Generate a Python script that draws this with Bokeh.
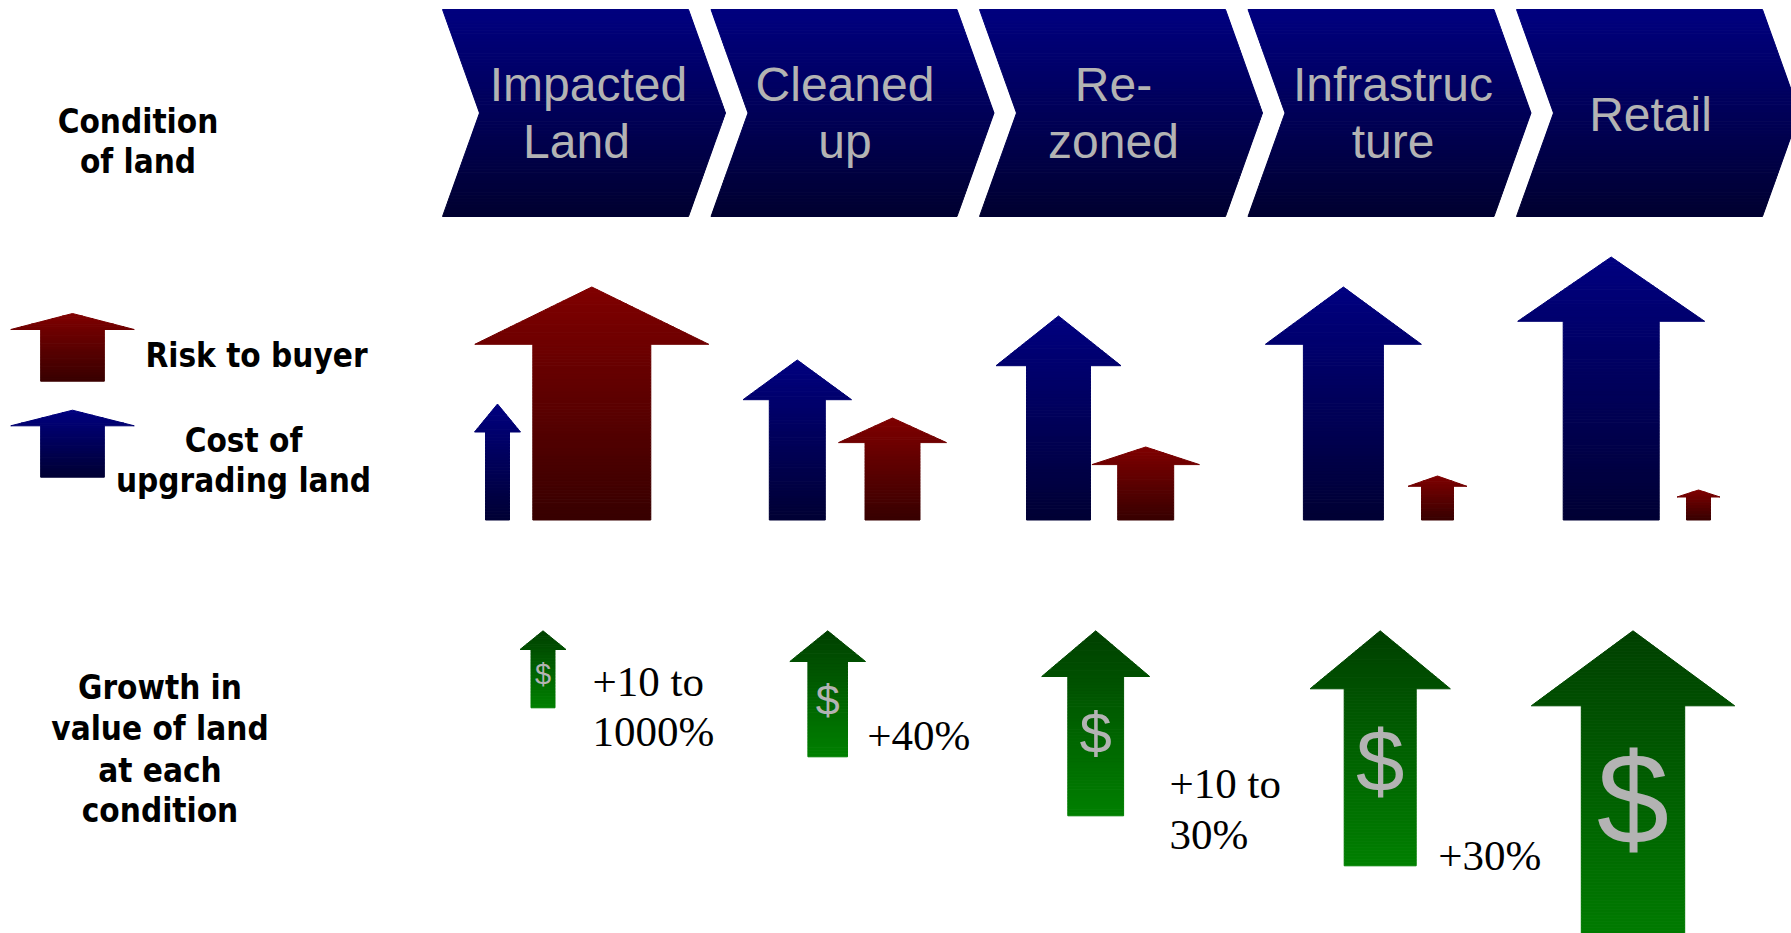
import math
from bokeh.plotting import figure
from bokeh.models import Range1d
from bokeh.core.properties import value
from bokeh.embed import file_html
from bokeh.resources import INLINE

# ---------------- data ----------------
stage_lines = [["Impacted", "Land"], ["Cleaned", "up"], ["Re-", "zoned"],
               ["Infrastruc", "ture"], ["Retail"]]
cost_of_upgrading = [116, 160, 204, 233, 263]     # blue arrows (relative height)
risk_to_buyer = [233, 102, 73, 44, 30]            # red arrows (relative height)
value_growth = [77, 126, 185, 235, 330]           # green arrows (relative length)
growth_labels = [["+10 to", "1000%"], ["+40%"], ["+10 to", "30%"], ["+30%"], []]
condition_title = ["Condition", "of land"]
risk_legend = ["Risk to buyer"]
cost_legend = ["Cost of", "upgrading land"]
growth_title = ["Growth in", "value of land", "at each", "condition"]

# ---------------- layout / style ----------------
W, H = 1791, 933
CHEV_X0, CHEV_PITCH, CHEV_W, CHEV_DEPTH = 442, 268.5, 246, 37
CHEV_TOP, CHEV_BOT = 9, 216
STAGE_DX = 134
label_dx = [[146, 134], [134, 134], [134, 134], [145, 145], [134]]
BASE_Y = 519.5
GREEN_TIP = 630.3
BASE_SHIFT = 0.36   # baseline correction (fraction of font size)

blue_dx = [-79, -47.7, -55, -38.6, -39.3]
blue_shaft = [24, 56, 64, 80, 96]
blue_head_w = [46, 108.5, 125, 156, 187]
blue_head_h = [28, 39.7, 49.7, 57.3, 64.3]

red_dx = [15.3, 47.5, 32.2, 55.5, 48]
red_shaft = [118, 55, 56, 32, 24]
red_head_w = [234, 108, 107.5, 59, 43]
red_head_h = [57.3, 24.6, 17.6, 10.3, 7]

green_dx = [-33.5, -17.3, -17.8, -1.8, -17.5]
green_shaft = [24, 39.6, 55.8, 72, 103.4]
green_head_w = [46, 75.7, 108, 140.3, 203.4]
green_head_h = [18.7, 30.7, 45.7, 58, 75]
dollar_size = [29, 43, 58, 87, 130]
dollar_cy = [672, 697.5, 730, 757, 793]
glabel_dx = [49.5, 39.6, 73.8, 58, 0]
glabel_base = [[696.7, 746.7], [750], [798, 849], [870], []]

BLUE = ((0, 0, 128), (0, 0, 52))
RED = ((128, 0, 0), (56, 0, 0))
GREEN = ((0, 64, 0), (0, 128, 0))
CHEV = ((0, 0, 128), (0, 0, 48))
SILVER = "#b3b3b3"

p = figure(width=W, height=H, x_range=Range1d(0, W), y_range=Range1d(H, 0),
           output_backend="svg", toolbar_location=None,
           x_axis_type=None, y_axis_type=None, min_border=0,
           outline_line_color=None, background_fill_color="white",
           border_fill_color="white")
p.grid.visible = False

def col(c, t):
    t = max(0.0, min(1.0, t))
    return "#%02x%02x%02x" % tuple(int(round(a + (b - a) * t)) for a, b in zip(*c))

def slices(a, b, step=3.0):
    n = max(1, int(math.ceil((b - a) / step)))
    return [(a + (b - a) * k / n, a + (b - a) * (k + 1) / n) for k in range(n)]

XS, YS, CS = [], [], []

def arrow(cx, y_tip, y_bot, head_h, head_w, shaft_w, colors):
    L = y_bot - y_tip
    y_hb = y_tip + head_h
    for ya, yb in slices(y_tip, y_hb):
        ha = head_w / 2 * (ya - y_tip) / head_h
        hb = head_w / 2 * (yb - y_tip) / head_h
        XS.append([cx - ha, cx + ha, cx + hb, cx - hb]); YS.append([ya, ya, yb, yb])
        CS.append(col(colors, ((ya + yb) / 2 - y_tip) / L))
    s = shaft_w / 2
    for ya, yb in slices(y_hb, y_bot):
        XS.append([cx - s, cx + s, cx + s, cx - s]); YS.append([ya, ya, yb, yb])
        CS.append(col(colors, ((ya + yb) / 2 - y_tip) / L))

def chevron(x0):
    mid = (CHEV_TOP + CHEV_BOT) / 2
    hh = mid - CHEV_TOP
    def off(y):
        return CHEV_DEPTH * (1 - abs(y - mid) / hh)
    for ya, yb in slices(CHEV_TOP, mid) + slices(mid, CHEV_BOT):
        xa, xb = x0 + off(ya), x0 + off(yb)
        XS.append([xa, xa + CHEV_W, xb + CHEV_W, xb])
        YS.append([ya, ya, yb, yb])
        CS.append(col(CHEV, ((ya + yb) / 2 - CHEV_TOP) / (CHEV_BOT - CHEV_TOP)))

n = len(stage_lines)
centers = [CHEV_X0 + STAGE_DX + CHEV_PITCH * i for i in range(n)]

for i in range(n):
    chevron(CHEV_X0 + CHEV_PITCH * i)
    arrow(centers[i] + blue_dx[i], BASE_Y - cost_of_upgrading[i], BASE_Y,
          blue_head_h[i], blue_head_w[i], blue_shaft[i], BLUE)
    arrow(centers[i] + red_dx[i], BASE_Y - risk_to_buyer[i], BASE_Y,
          red_head_h[i], red_head_w[i], red_shaft[i], RED)
    arrow(centers[i] + green_dx[i], GREEN_TIP, GREEN_TIP + value_growth[i],
          green_head_h[i], green_head_w[i], green_shaft[i], GREEN)

# legend arrows
arrow(72, 313, 380.7, 16, 123.5, 63.7, RED)
arrow(72, 409.7, 476.7, 15.6, 123.5, 63.7, BLUE)

p.patches(XS, YS, fill_color=CS, line_color=CS, line_width=1)

# stage labels
tx, ty, tt = [], [], []
for i, lines in enumerate(stage_lines):
    x0 = CHEV_X0 + CHEV_PITCH * i
    bases = [101.7, 158.3] if len(lines) == 2 else [131.6]
    for j, s in enumerate(lines):
        tx.append(x0 + label_dx[i][j]); ty.append(bases[j] - BASE_SHIFT * 48); tt.append(s)
p.text(x=tx, y=ty, text=tt, text_font=value("Liberation Sans"), text_font_size="48px",
       text_color=SILVER, text_align="center", text_baseline="alphabetic")

# dollar signs
p.text(x=[centers[i] + green_dx[i] for i in range(n)],
       y=[dollar_cy[i] + 0.04 * dollar_size[i] for i in range(n)],
       text=["$"] * n, text_font=value("Liberation Sans"),
       text_font_size=[f"{s}px" for s in dollar_size],
       text_color=SILVER, text_align="center", text_baseline="alphabetic")

# growth labels
GFS = 43
gx, gy, gt = [], [], []
for i, lines in enumerate(growth_labels):
    for j, s in enumerate(lines):
        gx.append(centers[i] + green_dx[i] + glabel_dx[i])
        gy.append(glabel_base[i][j] - BASE_SHIFT * GFS); gt.append(s)
p.text(x=gx, y=gy, text=gt, text_font=value("Liberation Serif"), text_font_size=f"{GFS}px",
       text_color="black", text_align="left", text_baseline="alphabetic")

# left bold labels
BFS = 33
bx, by, bt = [], [], []
for s, y in zip(condition_title, [132.5, 173.3]):
    bx.append(137.5); by.append(y); bt.append(s)
for s, y in zip(risk_legend, [366.5]):
    bx.append(256); by.append(y); bt.append(s)
for s, y in zip(cost_legend, [451.5, 491.5]):
    bx.append(243); by.append(y); bt.append(s)
for s, y in zip(growth_title, [699.3, 740, 781.7, 821.7]):
    bx.append(159.5); by.append(y); bt.append(s)
by = [y - BASE_SHIFT * BFS for y in by]
p.text(x=bx, y=by, text=bt, text_font=value("DejaVu Sans Condensed"), text_font_style="bold",
       text_font_size=f"{BFS}px", text_color="black", text_align="center", text_baseline="alphabetic")

open("out.html", "w").write(file_html(p, INLINE))
